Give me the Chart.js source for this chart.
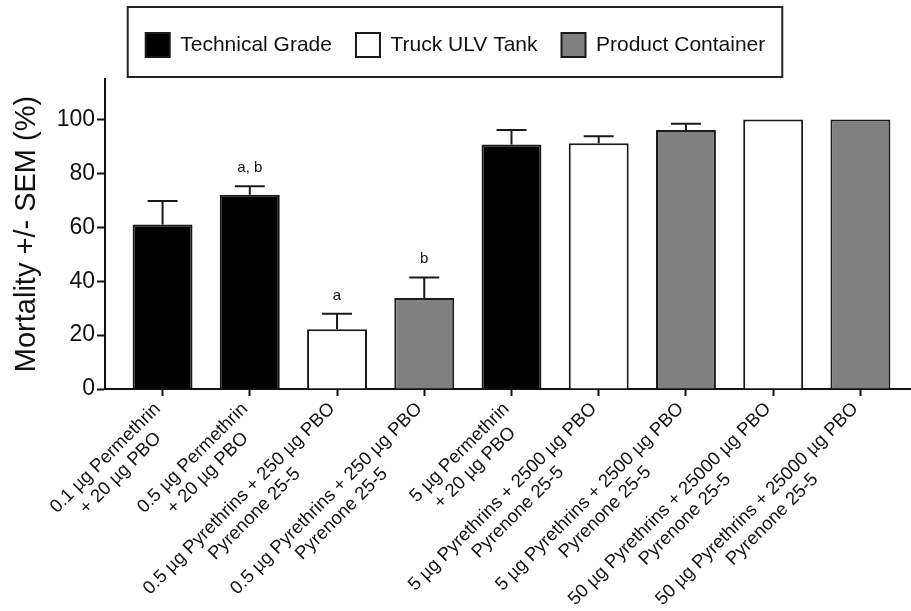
<!DOCTYPE html>
<html><head><meta charset="utf-8">
<script src="https://cdn.jsdelivr.net/npm/chart.js@4.4.1/dist/chart.umd.min.js"></script>
<style>html,body{margin:0;padding:0;background:#fff}</style>
</head><body>
<canvas id="c" width="911" height="611" style="display:block;width:911px;height:611px"></canvas>
<script>
const categories = [
  ['0.1 µg Permethrin', '+ 20 µg PBO'],
  ['0.5 µg Permethrin', '+ 20 µg PBO'],
  ['0.5 µg Pyrethrins + 250 µg PBO', 'Pyrenone 25-5'],
  ['0.5 µg Pyrethrins + 250 µg PBO', 'Pyrenone 25-5'],
  ['5 µg Permethrin', '+ 20 µg PBO'],
  ['5 µg Pyrethrins + 2500 µg PBO', 'Pyrenone 25-5'],
  ['5 µg Pyrethrins + 2500 µg PBO', 'Pyrenone 25-5'],
  ['50 µg Pyrethrins + 25000 µg PBO', 'Pyrenone 25-5'],
  ['50 µg Pyrethrins + 25000 µg PBO', 'Pyrenone 25-5']
];
const mortality = [61.0, 72.1, 22.2, 33.8, 90.7, 91.2, 96.1, 100, 100];
const sem = [8.7, 3.1, 5.7, 7.6, 5.4, 2.6, 2.3, 0, 0];
const sourceOf = [0, 0, 1, 2, 0, 1, 2, 1, 2];
const sources = ['Technical Grade', 'Truck ULV Tank', 'Product Container'];
const letters = ['', 'a, b', 'a', 'b', '', '', '', '', ''];
const yTicks = [0, 20, 40, 60, 80, 100];
const sourceColors = ['#000000', '#ffffff', '#808080'];

const F = '"Liberation Sans", Arial, Helvetica, sans-serif';
const INK = '#111111';

const datasets = sources.map((name, s) => ({
  label: name,
  data: mortality.map((v, i) => ({x: i, y: v})).filter(p => sourceOf[p.x] === s),
  backgroundColor: sourceColors[s],
  borderColor: '#1a1a1a',
  borderWidth: 2
}));

const legendSpace = {
  id: 'legendSpace',
  afterInit(chart) {
    const lg = chart.legend;
    if (!lg) return;
    const fit = lg.fit.bind(lg);
    lg.fit = function () { fit(); this.height = 70; };
  }
};

const legendFrame = {
  id: 'legendFrame',
  afterDraw(chart) {
    const lg = chart.legend;
    const hb = lg.legendHitBoxes;
    if (!hb || !hb.length) return;
    const first = hb[0], last = hb[hb.length - 1];
    const left = first.left - 18, right = last.left + last.width + 17;
    const top = first.top - 26, bottom = first.top + 24 + 20;
    const ctx = chart.ctx;
    ctx.save();
    ctx.strokeStyle = '#222';
    ctx.lineWidth = 2;
    ctx.strokeRect(left, top, right - left, bottom - top);
    ctx.restore();
  }
};

const errorBars = {
  id: 'errorBars',
  afterDatasetsDraw(chart) {
    const ctx = chart.ctx, y = chart.scales.y;
    ctx.save();
    ctx.strokeStyle = '#1a1a1a';
    ctx.lineWidth = 2;
    ctx.fillStyle = INK;
    ctx.font = '15px ' + F;
    ctx.textAlign = 'center';
    ctx.textBaseline = 'alphabetic';
    chart.data.datasets.forEach((ds, d) => {
      const meta = chart.getDatasetMeta(d);
      meta.data.forEach((el, j) => {
        const i = ds.data[j].x;
        const yTop = y.getPixelForValue(mortality[i] + sem[i]);
        if (sem[i] > 0) {
          ctx.beginPath();
          ctx.moveTo(el.x, el.y);
          ctx.lineTo(el.x, yTop);
          ctx.moveTo(el.x - el.width / 4, yTop);
          ctx.lineTo(el.x + el.width / 4, yTop);
          ctx.stroke();
        }
        if (letters[i]) ctx.fillText(letters[i], el.x, yTop - 14);
      });
    });
    ctx.restore();
  }
};

const xLabels = {
  id: 'xLabels',
  afterDraw(chart) {
    const ctx = chart.ctx, x = chart.scales.x;
    const axisY = x.top;
    ctx.save();
    ctx.font = '18.5px ' + F;
    ctx.fillStyle = INK;
    ctx.textAlign = 'center';
    ctx.textBaseline = 'middle';
    categories.forEach((lines, i) => {
      const px = x.getPixelForValue(i);
      const w = Math.max(...lines.map(l => ctx.measureText(l).width));
      ctx.save();
      ctx.translate(px - 5, axisY + 17);
      ctx.rotate(-Math.PI / 4);
      lines.forEach((l, k) => ctx.fillText(l, -w / 2, k * 21.5));
      ctx.restore();
    });
    ctx.restore();
  }
};

new Chart(document.getElementById('c'), {
  type: 'bar',
  data: {datasets},
  plugins: [legendSpace, legendFrame, errorBars, xLabels],
  options: {
    responsive: false,
    animation: false,
    devicePixelRatio: 1,
    grouped: false,
    barPercentage: 0.687,
    categoryPercentage: 1,
    layout: {padding: {top: 9, left: 0, right: 0, bottom: 0}},
    plugins: {
      legend: {
        position: 'top',
        labels: {boxWidth: 24, boxHeight: 24, padding: 24, color: INK, font: {family: F, size: 21}}
      },
      tooltip: {enabled: false}
    },
    scales: {
      x: {
        type: 'linear', min: -0.66, max: 8.58, offset: false,
        afterBuildTicks: sc => { sc.ticks = categories.map((_, i) => ({value: i})); },
        ticks: {display: false},
        grid: {display: true, offset: false, drawOnChartArea: false, drawTicks: true, tickLength: 7, tickWidth: 2, tickColor: INK},
        border: {display: true, width: 2, color: INK},
        afterFit: sc => { sc.height = 222; }
      },
      y: {
        min: 0, max: 115,
        afterBuildTicks: sc => { sc.ticks = yTicks.map(v => ({value: v})); },
        ticks: {color: INK, padding: 2, font: {family: F, size: 23}},
        grid: {drawOnChartArea: false, tickLength: 8, tickWidth: 2, tickColor: INK},
        border: {display: true, width: 2, color: INK},
        title: {display: true, text: 'Mortality +/- SEM (%)', color: INK, font: {family: F, size: 29}, padding: {top: 10, bottom: 0}},
        afterFit: sc => { sc.width = 105; }
      }
    }
  }
});
</script>
</body></html>
